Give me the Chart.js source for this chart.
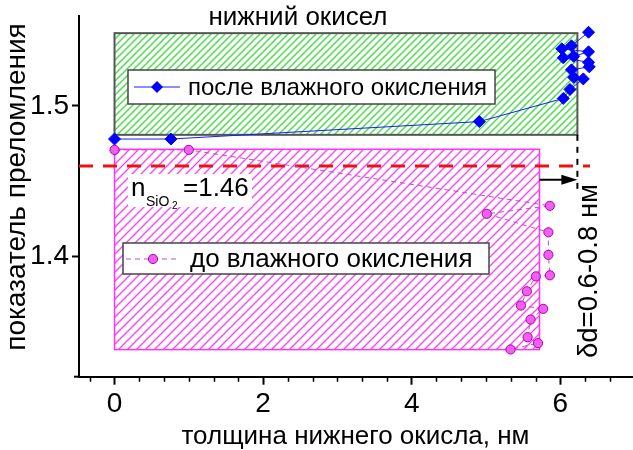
<!DOCTYPE html>
<html>
<head>
<meta charset="utf-8">
<script src="https://cdn.jsdelivr.net/npm/chart.js@4.4.1/dist/chart.umd.min.js"></script>
<style>
  body { margin: 0; background: #fff; }
  canvas { display: block; }
</style>
</head>
<body>
<canvas id="chart" width="633" height="450"></canvas>
<script>
// после влажного окисления (blue diamonds)
const afterX = [0, 0.76, 4.91, 6.04, 6.13, 6.31, 6.18, 6.15, 6.39, 6.38, 6.04, 6.18, 6.38, 6.02, 6.15, 6.38];
const afterY = [1.478, 1.478, 1.4896, 1.505, 1.511, 1.518, 1.519, 1.524, 1.526, 1.529, 1.532, 1.533, 1.536, 1.538, 1.540, 1.549];

// до влажного окисления (pink circles)
const beforeX = [0, 1.0, 5.86, 5.01, 5.84, 5.84, 5.86, 5.67, 5.55, 5.47, 5.77, 5.60, 5.56, 5.70, 5.33];
const beforeY = [1.4708, 1.4708, 1.4336, 1.4283, 1.416, 1.401, 1.3874, 1.3867, 1.3768, 1.3673, 1.3651, 1.358, 1.3463, 1.3423, 1.3381];

const xTicks = [0, 2, 4, 6];
const yTicks = [1.4, 1.5];
const xRange = [-0.478, 6.965];
const yRange = [1.32, 1.56];

const nSiO2 = 1.46;
const nLineEnd = 6.4;
const upperBox = [0, 6.23, 1.4808, 1.5484];   // нижний окисел после
const lowerBox = [0, 5.72, 1.338, 1.4712];    // до
const shiftY = 1.4509;
const shiftFrom = 5.72;
const shiftTo = 6.23;
const markerBottom = 1.4438;

const FONT = "'Liberation Sans', Arial, sans-serif";
Chart.defaults.font.family = FONT;
Chart.defaults.color = '#000';

function toPts(xs, ys) {
  return xs.map((x, i) => ({ x: x, y: ys[i] }));
}

function makeHatch(ctx, color, gap, width) {
  const c = document.createElement('canvas');
  c.width = gap; c.height = gap;
  const g = c.getContext('2d');
  g.fillStyle = '#fff';
  g.fillRect(0, 0, gap, gap);
  g.strokeStyle = color;
  g.lineWidth = width;
  g.beginPath();
  g.moveTo(-2, gap + 2); g.lineTo(gap + 2, -2);
  g.moveTo(-2, 2); g.lineTo(2, -2);
  g.moveTo(gap - 2, gap + 2); g.lineTo(gap + 2, gap - 2);
  g.stroke();
  return ctx.createPattern(c, 'repeat');
}

function boxPx(chart, b) {
  const xs = chart.scales.x, ys = chart.scales.y;
  const x0 = xs.getPixelForValue(b[0]), x1 = xs.getPixelForValue(b[1]);
  const y0 = ys.getPixelForValue(b[3]), y1 = ys.getPixelForValue(b[2]);
  return [x0, y0, x1 - x0, y1 - y0];
}

const decor = {
  id: 'decor',
  beforeDatasetsDraw(chart) {
    const ctx = chart.ctx;
    ctx.save();
    // upper (green) region
    let r = boxPx(chart, upperBox);
    ctx.fillStyle = makeHatch(ctx, '#3fe03f', 7, 1.4);
    ctx.fillRect(r[0], r[1], r[2], r[3]);
    ctx.strokeStyle = '#555';
    ctx.lineWidth = 2;
    ctx.strokeRect(r[0], r[1], r[2], r[3]);
    // lower (magenta) region
    r = boxPx(chart, lowerBox);
    ctx.fillStyle = makeHatch(ctx, '#ff3cff', 9, 1.3);
    ctx.fillRect(r[0], r[1], r[2], r[3]);
    ctx.strokeStyle = '#ff33ff';
    ctx.lineWidth = 1.5;
    ctx.strokeRect(r[0], r[1], r[2], r[3]);
    ctx.restore();
  },
  afterDatasetsDraw(chart) {
    const ctx = chart.ctx;
    const xs = chart.scales.x, ys = chart.scales.y;
    ctx.save();

    // arrow head
    const ax = xs.getPixelForValue(shiftTo), ay = ys.getPixelForValue(shiftY);
    ctx.fillStyle = '#000';
    ctx.beginPath();
    ctx.moveTo(ax, ay);
    ctx.lineTo(ax - 16, ay - 5);
    ctx.lineTo(ax - 16, ay + 5);
    ctx.closePath();
    ctx.fill();

    // legend: после влажного окисления
    ctx.fillStyle = '#fff';
    ctx.fillRect(128, 70, 367, 34);
    ctx.strokeStyle = '#444';
    ctx.lineWidth = 1.5;
    ctx.strokeRect(128, 70, 367, 34);
    ctx.strokeStyle = '#1a1aff';
    ctx.lineWidth = 1;
    ctx.beginPath(); ctx.moveTo(134, 87); ctx.lineTo(180, 87); ctx.stroke();
    ctx.fillStyle = '#0000ff';
    ctx.beginPath();
    ctx.moveTo(157, 81); ctx.lineTo(163, 87); ctx.lineTo(157, 93); ctx.lineTo(151, 87);
    ctx.closePath(); ctx.fill();
    ctx.fillStyle = '#000';
    ctx.font = '24px ' + FONT;
    ctx.textBaseline = 'middle';
    ctx.textAlign = 'left';
    ctx.fillText('после влажного окисления', 188, 88);

    // legend: до влажного окисления
    ctx.fillStyle = '#fff';
    ctx.fillRect(123, 243, 366, 31);
    ctx.strokeStyle = '#444';
    ctx.lineWidth = 1.5;
    ctx.strokeRect(123, 243, 366, 31);
    ctx.strokeStyle = '#c050c0';
    ctx.lineWidth = 1;
    ctx.setLineDash([5, 4]);
    ctx.beginPath(); ctx.moveTo(126, 259); ctx.lineTo(180, 259); ctx.stroke();
    ctx.setLineDash([]);
    ctx.fillStyle = '#f060f0';
    ctx.strokeStyle = '#b000b0';
    ctx.beginPath(); ctx.arc(153, 259, 4.6, 0, Math.PI * 2); ctx.fill(); ctx.stroke();
    ctx.fillStyle = '#000';
    ctx.font = '26px ' + FONT;
    ctx.fillText('до влажного окисления', 190, 260);

    // n_SiO2 = 1.46 label
    ctx.fillStyle = '#fff';
    ctx.fillRect(128, 174, 124, 33);
    ctx.fillStyle = '#000';
    ctx.textBaseline = 'alphabetic';
    ctx.font = '26px ' + FONT;
    ctx.fillText('n', 131, 196);
    ctx.font = '14px ' + FONT;
    ctx.fillText('SiO', 146, 206);
    ctx.font = '10px ' + FONT;
    ctx.fillText('2', 172, 209);
    ctx.font = '26px ' + FONT;
    ctx.fillText('=1.' + '46', 183, 196);

    // top caption
    ctx.textAlign = 'center';
    ctx.font = '26px ' + FONT;
    ctx.fillText('нижний окисел', 298, 25);

    // δd label, rotated
    ctx.save();
    ctx.translate(597, 271);
    ctx.rotate(-Math.PI / 2);
    ctx.font = '27.5px ' + FONT;
    ctx.fillText('δd=0.6-0.8 нм', 0, 0);
    ctx.restore();

    // y title
    ctx.save();
    ctx.translate(25, 187);
    ctx.rotate(-Math.PI / 2);
    ctx.font = '28px ' + FONT;
    ctx.fillText('показатель преломления', 0, 0);
    ctx.restore();

    ctx.restore();
  },
  afterDraw(chart) {
    // minor ticks
    const ctx = chart.ctx;
    const xs = chart.scales.x, ys = chart.scales.y;
    const area = chart.chartArea;
    ctx.save();
    ctx.strokeStyle = '#000';
    ctx.lineWidth = 1.5;
    ctx.beginPath();
    for (let k = -1; k <= 21; k++) {
      if (k % 6 === 0) continue;
      const v = k / 3;
      if (v < xRange[0] || v > xRange[1]) continue;
      const px = Math.round(xs.getPixelForValue(v)) + 0.5;
      ctx.moveTo(px, area.bottom);
      ctx.lineTo(px, area.bottom + 5);
    }
    for (let k = 32; k <= 56; k++) {
      if (k % 10 === 0) continue;
      const py = Math.round(ys.getPixelForValue(k / 100)) + 0.5;
      ctx.moveTo(area.left, py);
      ctx.lineTo(area.left - 4, py);
    }
    ctx.stroke();
    // x axis runs a little past the y axis
    ctx.lineWidth = 2;
    ctx.beginPath();
    ctx.moveTo(area.left - 5, area.bottom);
    ctx.lineTo(area.left, area.bottom);
    ctx.stroke();
    ctx.restore();
  }
};

new Chart(document.getElementById('chart'), {
  type: 'scatter',
  data: {
    datasets: [
      {
        label: 'после влажного окисления',
        data: toPts(afterX, afterY),
        showLine: true,
        borderColor: '#1a1aff',
        borderWidth: 1,
        pointStyle: 'rectRot',
        pointRadius: 6,
        pointBackgroundColor: '#0000ff',
        pointBorderColor: '#0000ff',
        order: 1
      },
      {
        label: 'до влажного окисления',
        data: toPts(beforeX, beforeY),
        showLine: true,
        borderColor: '#c050c0',
        borderWidth: 1,
        borderDash: [5, 4],
        pointStyle: 'circle',
        pointRadius: 4.6,
        pointBackgroundColor: '#f060f0',
        pointBorderColor: '#b000b0',
        pointBorderWidth: 1,
        order: 2
      },
      {
        label: 'nSiO2',
        data: [{ x: xRange[0], y: nSiO2 }, { x: nLineEnd, y: nSiO2 }],
        showLine: true,
        borderColor: '#ee1111',
        borderWidth: 3,
        borderDash: [14, 10],
        pointRadius: 0,
        order: 3
      },
      {
        label: 'edge',
        data: [{ x: shiftTo, y: upperBox[2] }, { x: shiftTo, y: markerBottom }],
        showLine: true,
        borderColor: '#000',
        borderWidth: 2,
        borderDash: [6, 6],
        pointRadius: 0,
        order: 3
      },
      {
        label: 'shift',
        data: [{ x: shiftFrom, y: shiftY }, { x: shiftTo - 0.15, y: shiftY }],
        showLine: true,
        borderColor: '#000',
        borderWidth: 2,
        pointRadius: 0,
        order: 3
      }
    ]
  },
  options: {
    responsive: false,
    animation: false,
    devicePixelRatio: 1,
    layout: { autoPadding: false, padding: { top: 15.7, right: 1, left: 0, bottom: 0 } },
    plugins: {
      legend: { display: false },
      tooltip: { enabled: false }
    },
    scales: {
      x: {
        type: 'linear',
        min: xRange[0],
        max: xRange[1],
        afterBuildTicks: s => { s.ticks = xTicks.map(v => ({ value: v })); },
        afterFit: s => { s.height = 73.3; s.paddingLeft = 0; s.paddingRight = 0; },
        ticks: { font: { size: 28 }, color: '#000', padding: 3, maxRotation: 0 },
        grid: { drawOnChartArea: false, drawTicks: true, tickLength: 8, tickWidth: 2, tickColor: '#000' },
        border: { display: true, color: '#000', width: 2 },
        title: {
          display: true,
          text: 'толщина нижнего окисла, нм',
          font: { size: 26, lineHeight: 1 },
          color: '#000',
          padding: { top: 0, bottom: 0 }
        }
      },
      y: {
        type: 'linear',
        min: yRange[0],
        max: yRange[1],
        afterBuildTicks: s => { s.ticks = yTicks.map(v => ({ value: v })); },
        afterFit: s => { s.width = 79; s.paddingTop = 0; s.paddingBottom = 0; },
        ticks: { font: { size: 28 }, color: '#000', padding: 3, callback: v => v.toFixed(1) },
        grid: { drawOnChartArea: false, drawTicks: true, tickLength: 7, tickWidth: 2, tickColor: '#000' },
        border: { display: true, color: '#000', width: 2 }
      }
    }
  },
  plugins: [decor]
});
</script>
</body>
</html>
